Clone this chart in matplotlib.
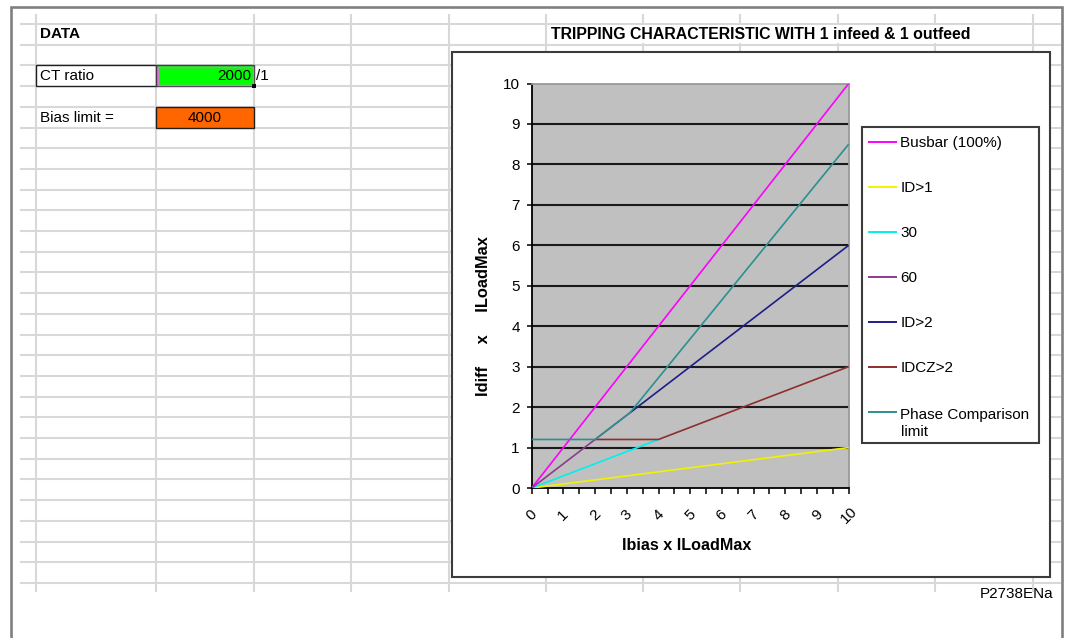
import numpy as np
import matplotlib
matplotlib.use("Agg")
import matplotlib.pyplot as plt
from matplotlib.patches import Rectangle
from matplotlib.transforms import ScaledTranslation

plt.rcParams['font.family'] = ['Liberation Sans', 'DejaVu Sans']

W, H, DPI = 1068, 638, 100

# ---- sheet values ----
ct_ratio = "2000"
bias_limit = "4000"

# ---- chart series (Ibias, Idiff) in multiples of ILoadMax ----
series_names = ["Busbar (100%)", "ID>1", "30", "60", "ID>2", "IDCZ>2",
                "Phase Comparison\nlimit"]
series_colors = ["#ff00ff", "#f2f200", "#00f0f0", "#8c3c8c", "#1e1e88",
                 "#8e2e2e", "#2b9090"]

busbar_x = [0, 10]
busbar_y = [0, 10]
id1_x = [0, 10]
id1_y = [0, 1]
slope30_x = [0, 4]
slope30_y = [0, 1.2]
slope60_x = [0, 3.1]
slope60_y = [0, 1.86]
id2_x = [3.1, 10]
id2_y = [1.86, 6]
idcz2_x = [2, 4, 10]
idcz2_y = [1.2, 1.2, 3]
phase_x = [0, 2, 3.1, 10]
phase_y = [1.2, 1.2, 1.86, 8.5]

series = [(busbar_x, busbar_y), (id1_x, id1_y), (slope30_x, slope30_y),
          (slope60_x, slope60_y), (id2_x, id2_y), (idcz2_x, idcz2_y),
          (phase_x, phase_y)]

x_ticks = np.arange(0, 10.01, 0.5)
x_ticklabels = [str(int(v)) if v == int(v) else "" for v in x_ticks]
y_ticks = list(range(0, 11))

fig = plt.figure(figsize=(W / DPI, H / DPI), dpi=DPI)
fig.patch.set_facecolor("white")

# ---- worksheet layer, in pixel coordinates ----
bg = fig.add_axes([0, 0, 1, 1])
bg.set_xlim(0, W)
bg.set_ylim(H, 0)
bg.axis("off")

GRID = "#d8d8d8"
row_y = [24 + 20.7 * k for k in range(28)]
col_x = [36, 156, 254, 351, 449, 546, 643, 740, 838, 935, 1033]
for y in row_y:
    bg.plot([20, 1061], [y, y], color=GRID, lw=1.5, zorder=1,
            solid_capstyle="butt")
for x in col_x:
    bg.plot([x, x], [14, 592], color=GRID, lw=1.5, zorder=1,
            solid_capstyle="butt")

# title overflows across the cells of its row
bg.add_patch(Rectangle((547.5, 25.3), 484, 18.2, fc="white", ec="none", zorder=2))

# window frame
bg.plot([11, 11, 1062, 1062], [H, 7, 7, H], color="#808080", lw=1.9,
        zorder=6, solid_joinstyle="miter")

# data cells
bg.add_patch(Rectangle((36, 65), 120, 21, fc="white", ec="#202020", lw=1.0, zorder=3))
bg.add_patch(Rectangle((156, 65), 98, 21, fc="#00ff00", ec="#404040", lw=1.0, zorder=3))
bg.add_patch(Rectangle((157.5, 66.5), 95, 18, fc="none", ec="#d77ad7", lw=1.0, zorder=3))
bg.add_patch(Rectangle((251.5, 83.5), 4.5, 4.5, fc="black", ec="none", zorder=4))
bg.add_patch(Rectangle((156, 107), 98, 20.7, fc="#ff6600", ec="#202020", lw=1.0, zorder=3))

TXT = 11
bg.text(40, 34.5, "DATA", fontsize=TXT, fontweight="bold", va="center", zorder=4)
bg.text(40, 76, "CT ratio", fontsize=TXT, va="center", zorder=4)
bg.text(251, 76, ct_ratio, fontsize=TXT, va="center", ha="right", zorder=4)
bg.text(256, 76, "/1", fontsize=TXT, va="center", zorder=4)
bg.text(40, 117.5, "Bias limit =", fontsize=TXT, va="center", zorder=4)
bg.text(205, 117.5, bias_limit, fontsize=TXT, va="center", ha="center", zorder=4)
bg.text(760.5, 34.5, "TRIPPING CHARACTERISTIC WITH 1 infeed & 1 outfeed",
        fontsize=11.4, fontweight="bold", va="center", ha="center", zorder=4)
bg.text(1053, 593.5, "P2738ENa", fontsize=TXT, va="center", ha="right", zorder=4)

# chart object
bg.add_patch(Rectangle((452.3, 51.7), 597.7, 525, fc="white", ec="#3c3c3c",
                       lw=1.5, zorder=3))

# axis titles
bg.text(687, 545, "Ibias x ILoadMax", fontsize=11.6, fontweight="bold",
        va="center", ha="center", zorder=4)
bg.text(483, 316, "Idiff     x     ILoadMax", fontsize=11.8, fontweight="bold",
        va="center", ha="center", rotation=90, zorder=4)

# legend
leg_y0, leg_dy, line_px = 141.7, 45.0, 18.7
bg.add_patch(Rectangle((862.3, 126.7), 177, 316, fc="white", ec="#3c3c3c",
                       lw=1.5, zorder=4))
for i, (name, col) in enumerate(zip(series_names, series_colors)):
    yy = leg_y0 + i * leg_dy
    bg.plot([868, 897], [yy, yy], color=col, lw=1.4, zorder=5,
            solid_capstyle="butt")
    extra = name.count("\n") * line_px
    bg.text(900.5, yy + 5.5 + extra, name, fontsize=TXT, va="baseline",
            ha="left", linespacing=1.22, zorder=5)

# ---- plot area ----
left, right, top, bottom = 531.7, 848.7, 83.5, 488.0
ax = fig.add_axes([left / W, 1 - bottom / H, (right - left) / W, (bottom - top) / H])
ax.set_facecolor("#c0c0c0")
for (xs, ys), col in zip(series, series_colors):
    ax.plot(xs, ys, color=col, lw=1.2, zorder=3, solid_capstyle="butt")

ax.set_xlim(0, 10)
ax.set_ylim(0, 10)
for v in y_ticks[1:-1]:
    ax.axhline(v, color="#1a1a1a", lw=1.5, zorder=1.5)

ax.set_yticks(y_ticks)
ax.set_yticklabels([str(v) for v in y_ticks])
ax.set_xticks(x_ticks)
ax.set_xticklabels(x_ticklabels, rotation=45, ha="center", va="center",
                   rotation_mode="anchor")
shift = ScaledTranslation(-12 / DPI, 0, fig.dpi_scale_trans)
for lbl in ax.get_xticklabels():
    lbl.set_transform(lbl.get_transform() + shift)

ax.tick_params(axis="x", direction="out", length=4.5, width=1.1, pad=15,
               labelsize=TXT, colors="black")
ax.tick_params(axis="y", direction="out", length=3.6, width=1.1, pad=5,
               labelsize=TXT, colors="black")

for side in ("left", "bottom"):
    ax.spines[side].set_color("black")
    ax.spines[side].set_linewidth(1.3)
for side in ("top", "right"):
    ax.spines[side].set_color("#9a9a9a")
    ax.spines[side].set_linewidth(1.3)

fig.savefig("out.png", dpi=DPI)
